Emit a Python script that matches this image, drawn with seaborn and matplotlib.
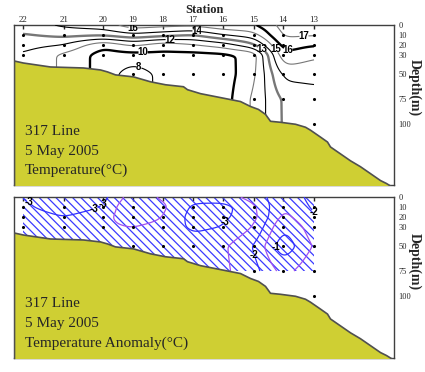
import numpy as np
import matplotlib
matplotlib.use('Agg')
import matplotlib.pyplot as plt
import seaborn as sns

####
# data
####

stations = ['22', '21', '20', '19', '18', '17', '16', '15', '14', '13']
station_dist = [9, 50, 89, 119, 149, 179, 209, 240, 269, 300]

depth_ticks = [0, 10, 20, 30, 50, 75, 100]

d30 = [0, 10, 20, 30]
d50 = [0, 10, 20, 30, 50]
d75 = [0, 10, 20, 30, 50, 75]
d100 = [0, 10, 20, 30, 50, 75, 100]
sample_depths = [d30, d30, d30, d50, d50, d50, d50, d75, d75, d100]

# temperature (degC) at each station, top to bottom
temperature = [
    [13.6, 12.9, 12.4, 11.9],
    [14.2, 13.3, 12.0, 10.8],
    [14.6, 13.2, 10.2, 9.6],
    [15.6, 13.8, 11.2, 9.7, 6.5],
    [15.4, 13.4, 10.4, 9.8, 8.8],
    [15.3, 13.0, 10.9, 9.7, 9.2],
    [15.8, 14.0, 11.5, 9.8, 9.5],
    [15.9, 14.6, 12.8, 10.3, 10.7, 11.2],
    [17.4, 17.2, 16.5, 15.9, 14.3, 13.2],
    [17.5, 17.1, 16.1, 15.2, 14.3, 13.6, 13.3],
]
temp_levels = [8, 10, 11, 12, 13, 14, 15, 16, 17]

# anomaly (degC), climatology only down to 75 m
anom_depths = [d30, d30, d30, d50, d50, d50, d50, d75, d75, d75]
anomaly = [
    [-3.0, -2.9, -2.7, -2.6],
    [-3.3, -3.3, -3.0, -2.8],
    [-3.2, -3.0, -2.7, -2.6],
    [-2.2, -1.9, -2.1, -2.5, -2.6],
    [-2.6, -2.4, -2.5, -2.7, -2.6],
    [-2.8, -3.1, -3.2, -3.1, -2.8],
    [-2.7, -3.2, -3.1, -3.0, -2.6],
    [-2.3, -2.6, -2.7, -2.5, -2.0, -2.2],
    [-1.6, -1.5, -1.3, -1.0, -0.6, -1.3],
    [-2.2, -2.1, -2.0, -1.8, -1.6, -1.9],
]
anom_main = [-3, -2, -1]
anom_half = [-3.5, -2.5, -1.5]

# bottom profile (distance, depth)
bathy_dist = [0, 9, 36, 69, 86, 93, 101, 119, 136, 151, 169, 173, 186, 206, 226, 236,
              244, 251, 256, 266, 281, 291, 296, 306, 313, 316, 326, 336, 346, 356, 366, 372, 380]
bathy_depth = [36, 38, 42, 43, 45, 47, 50, 52, 57, 60, 62, 65, 69, 73, 77, 82,
               85, 90, 97, 98, 100, 103, 106, 113, 118, 123, 130, 137, 143, 150, 157, 160, 165]

####
# defs
####

def gauss(sigma):
    i = np.arange(-3 * sigma, 3 * sigma + 1)
    k = np.exp(-0.5 * (i / sigma) ** 2)
    return k / k.sum()


def smooth(field, sx, sz):
    kx, kz = gauss(sx), gauss(sz)
    px, pz = len(kx) // 2, len(kz) // 2
    f = np.pad(field, ((0, 0), (px, px)), mode='edge')
    f = np.array([np.convolve(r, kx, mode='valid') for r in f])
    f = np.pad(f, ((pz, pz), (0, 0)), mode='edge')
    f = np.array([np.convolve(c, kz, mode='valid') for c in f.T]).T
    return f


def grid_section(dist, depths, values, grid_x, grid_z):
    cols = np.array([np.interp(grid_z, d, v) for d, v in zip(depths, values)])
    field = np.array([np.interp(grid_x, dist, cols[:, k]) for k in range(len(grid_z))])
    return smooth(field, 6, 4)


def bold_labels(texts):
    for t in texts:
        t.set_fontfamily('Liberation Sans')
        t.set_fontweight('bold')
        t.set_rotation(0)


def draw_base(ax, ymax, ticklabels, label_y):
    ax.fill_between(bathy_dist, bathy_depth, ymax + 10, facecolor='#cfcf33',
                    edgecolor='#505050', linewidth=1.2, zorder=4)
    xs = [x for x, dl in zip(station_dist, sample_depths) for d in dl if d > 0]
    zs = [d for dl in sample_depths for d in dl if d > 0]
    sns.scatterplot(x=xs, y=zs, ax=ax, color='black', s=5, linewidth=0,
                    legend=False, zorder=6)
    ax.set_xlim(0, 380)
    ax.set_ylim(ymax, 0)
    ax.xaxis.tick_top()
    ax.set_xticks(station_dist)
    ax.set_xticklabels(stations if ticklabels else [])
    ax.yaxis.tick_right()
    ax.set_yticks(depth_ticks)
    ax.set_yticklabels([str(d) for d in depth_ticks])
    ax.tick_params(axis='x', direction='in', length=3, width=1, pad=1, labelsize=6.5)
    ax.tick_params(axis='y', length=0, pad=3, labelsize=6)
    for s in ax.spines.values():
        s.set_color('#404040')
        s.set_linewidth(1)
    ax.yaxis.set_label_position('right')
    ax.set_ylabel('Depth(m)', rotation=-90, fontsize=10, fontweight='bold',
                  va='center', ha='center')
    ax.yaxis.set_label_coords(1.055, label_y)


def main():
    sns.set_style('white')
    plt.rcParams['font.family'] = ['Liberation Serif', 'DejaVu Serif']
    plt.rcParams['hatch.color'] = '#3a3aff'
    plt.rcParams['hatch.linewidth'] = 0.9

    fig = plt.figure(figsize=(4.25, 3.72), dpi=100)
    ax1 = fig.add_axes([14 / 425, 1 - 185 / 372, 380 / 425, 160 / 372])
    ax2 = fig.add_axes([14 / 425, 1 - 358 / 372, 380 / 425, 161 / 372])

    gx = np.linspace(station_dist[0], station_dist[-1], 300)

    # temperature
    gz = np.linspace(0, 115, 231)
    tf = grid_section(station_dist, sample_depths, temperature, gx, gz)
    tcol = ['#777777' if lv % 2 else 'black' for lv in temp_levels]
    tlw = [1.7 if lv in (10, 13, 16) else 0.8 for lv in temp_levels]
    cs = ax1.contour(gx, gz, tf, levels=temp_levels, colors=tcol, linewidths=tlw, zorder=3)
    tlab = [(119, 4), (183, 6), (156, 15), (129, 27), (124, 46), (249, 23), (263, 23),
            (275, 21), (290, 12)]
    bold_labels(ax1.clabel(cs, fmt='%d', fontsize=7, manual=tlab, inline_spacing=1,
                           colors='black'))
    draw_base(ax1, 162, True, 0.61)
    ax1.xaxis.set_label_position('top')
    ax1.set_xlabel('Station', fontsize=9, fontweight='bold', labelpad=2)

    # anomaly
    az = np.linspace(0, 75, 151)
    af = grid_section(station_dist, anom_depths, anomaly, gx, az)
    hc = ax2.contourf(gx, az, af, levels=[-10, 0], colors='none', hatches=['\\\\\\\\'],
                      zorder=2)
    hc.set_edgecolor('#3a3aff')
    hc.set_linewidth(0)
    if hasattr(hc, 'set_hatchcolor'):
        hc.set_hatchcolor('#3a3aff')
    ax2.contour(gx, az, af, levels=anom_half, colors='#a050f0', linewidths=0.9,
                linestyles='solid', zorder=3)
    cs2 = ax2.contour(gx, az, af, levels=anom_main, colors='#3030ff', linewidths=0.9,
                      linestyles='solid', zorder=3)
    alab = [(16, 5), (83, 15), (121, 18), (211, 25), (243, 58), (271, 50), (296, 22)]
    bold_labels(ax2.clabel(cs2, fmt='%d', fontsize=7, manual=alab, inline_spacing=1,
                           colors='black'))
    draw_base(ax2, 163, False, 0.60)

    for ax, title in ((ax1, 'Temperature(°C)'), (ax2, 'Temperature Anomaly(°C)')):
        for yy, txt in zip([0.337, 0.212, 0.093], ['317 Line', '5 May 2005', title]):
            ax.text(0.029, yy, txt, transform=ax.transAxes, fontsize=11, va='center',
                    ha='left', zorder=7)

    fig.savefig('out.png', dpi=100)
    plt.close(fig)


if __name__ == '__main__':
    main()
